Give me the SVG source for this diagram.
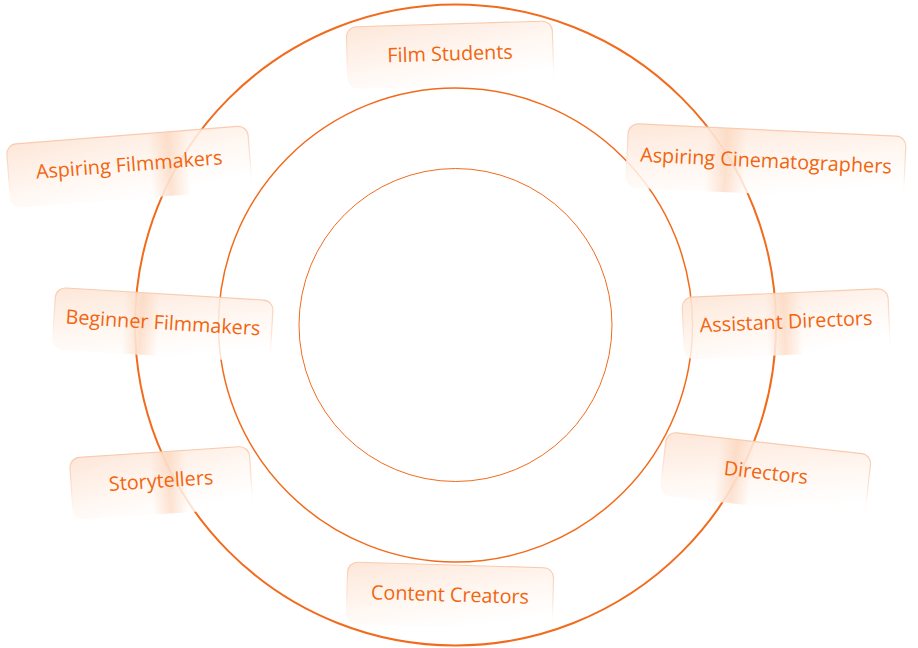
<svg xmlns="http://www.w3.org/2000/svg" width="918" height="648" viewBox="0 0 918 648">
<defs>
<linearGradient id="boxFill" x1="0" y1="0" x2="0.6" y2="1">
<stop offset="0" stop-color="#fde4d4" stop-opacity="0.9"/>
<stop offset="0.6" stop-color="#fff6f0" stop-opacity="0.85"/>
<stop offset="1" stop-color="#ffffff" stop-opacity="0.8"/>
</linearGradient>
<linearGradient id="boxStroke" x1="0" y1="0" x2="0" y2="1">
<stop offset="0" stop-color="#f9cbae"/>
<stop offset="0.55" stop-color="#fde5d6"/>
<stop offset="1" stop-color="#ffffff" stop-opacity="0"/>
</linearGradient>
<linearGradient id="streak" x1="0" y1="0" x2="1" y2="0">
<stop offset="0" stop-color="#fbd0b4" stop-opacity="0"/>
<stop offset="0.5" stop-color="#fbd0b4" stop-opacity="0.6"/>
<stop offset="1" stop-color="#fbd0b4" stop-opacity="0"/>
</linearGradient>
</defs>
<style>
.ring{fill:none;stroke:#f26b1d}
.box{fill:url(#boxFill);stroke:url(#boxStroke);stroke-width:1.2}
.lbl{font-family:"Open Sans","Lato",sans-serif;font-size:19.8px;fill:#f2650f;text-anchor:middle;dominant-baseline:central}
</style>
<rect width="918" height="648" fill="#ffffff"/>
<g id="connectors">
<circle class="ring" cx="455.5" cy="325" r="320.5" stroke-width="2"/>
<circle class="ring" cx="455.5" cy="325" r="237" stroke-width="1.5"/>
<circle class="ring" cx="455.5" cy="325" r="156.5" stroke-width="1"/>
</g>
<g id="film-students" transform="translate(450,53) rotate(-1.7)">
<rect class="box" x="-103" y="-29" width="206" height="62" rx="10"/>
<text class="lbl" x="0" y="0">Film Students</text>
</g>
<g id="aspiring-filmmakers" transform="translate(129,164) rotate(-4.5)">
<rect class="box" x="-121" y="-29" width="242" height="64" rx="10"/>
<rect x="20" y="-29" width="40" height="64" fill="url(#streak)"/>
<text class="lbl" x="0" y="0">Aspiring Filmmakers</text>
</g>
<g id="aspiring-cinematographers" transform="translate(766,160) rotate(2.7)">
<rect class="box" x="-139" y="-30" width="278" height="64" rx="10"/>
<rect x="-60" y="-30" width="40" height="64" fill="url(#streak)"/>
<text class="lbl" x="0" y="0">Aspiring Cinematographers</text>
</g>
<g id="beginner-filmmakers" transform="translate(163,322) rotate(3.5)">
<rect class="box" x="-109" y="-28" width="218" height="62" rx="10"/>
<rect x="-40" y="-28" width="36" height="62" fill="url(#streak)"/>
<text class="lbl" x="0" y="0">Beginner Filmmakers</text>
</g>
<g id="assistant-directors" transform="translate(786,321) rotate(-2.5)">
<rect class="box" x="-103" y="-28" width="206" height="62" rx="10"/>
<rect x="-20" y="-28" width="36" height="62" fill="url(#streak)"/>
<text class="lbl" x="0" y="0">Assistant Directors</text>
</g>
<g id="storytellers" transform="translate(161,480) rotate(-3.8)">
<rect class="box" x="-90" y="-28" width="180" height="62" rx="10"/>
<rect x="-10" y="-28" width="36" height="62" fill="url(#streak)"/>
<text class="lbl" x="0" y="0">Storytellers</text>
</g>
<g id="directors" transform="translate(766,472) rotate(6.4)">
<rect class="box" x="-103" y="-29" width="206" height="64" rx="10"/>
<rect x="-50" y="-29" width="36" height="64" fill="url(#streak)"/>
<text class="lbl" x="0" y="0">Directors</text>
</g>
<g id="content-creators" transform="translate(450,594) rotate(1.7)">
<rect class="box" x="-103" y="-29" width="206" height="62" rx="10"/>
<text class="lbl" x="0" y="0">Content Creators</text>
</g>
</svg>
